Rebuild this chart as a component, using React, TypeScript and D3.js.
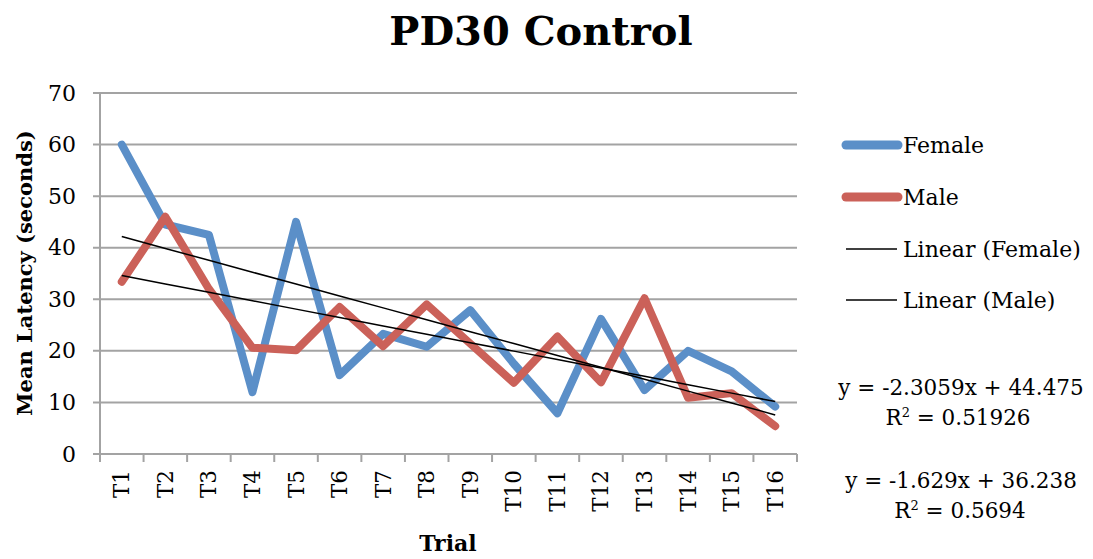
import React from "react";
import * as d3 from "d3";

const trials = ["T1","T2","T3","T4","T5","T6","T7","T8","T9","T10","T11","T12","T13","T14","T15","T16"];
const female = [60, 44.5, 42.5, 12, 45, 15.3, 23.3, 20.8, 27.9, 17.5, 7.9, 26.2, 12.4, 20, 16, 9.2];
const male = [33.4, 46, 32, 20.6, 20.1, 28.5, 20.9, 29, 21.4, 13.8, 22.8, 13.9, 30.2, 10.9, 11.8, 5.4];
const femaleTrend = { slope: -2.3059, intercept: 44.475, r2: "0.51926" };
const maleTrend = { slope: -1.629, intercept: 36.238, r2: "0.5694" };
const yTicks = [0, 10, 20, 30, 40, 50, 60, 70];
const legendItems = ["Female", "Male", "Linear (Female)", "Linear (Male)"];

const W = 1093, H = 559;
const L = 100, R = 797, T = 93, B = 454;
const FONT = "'DejaVu Serif', serif";
const BLUE = "#5b8fc8";
const RED = "#cb6159";
const GRID = "#a3a3a3";

export default function App() {
  const x = d3.scaleBand<string>().domain(trials).range([L, R]).padding(0);
  const cx = (t: string) => (x(t) as number) + x.bandwidth() / 2;
  const y = d3.scaleLinear().domain([0, 70]).range([B, T]);
  const line = d3.line<number>().x((_, i) => cx(trials[i])).y((d) => y(d));
  const trend = (tr: { slope: number; intercept: number }) =>
    d3.line<number>().x((_, i) => cx(trials[i])).y((n) => y(tr.intercept + tr.slope * n))(
      trials.map((_, i) => i + 1)
    ) as string;
  const xTickPos = [...trials.map((t) => x(t) as number), R];
  const legendY = [145, 197, 249, 300];

  return (
    <svg width={W} height={H} style={{ position: "absolute", left: 0, top: 0, background: "#fff" }} fontFamily={FONT}>
      <text x={541} y={45} textAnchor="middle" fontSize={40} fontWeight="bold" fill="#000">PD30 Control</text>
      {/* gridlines */}
      {yTicks.map((v) => (
        <line key={v} x1={L - 7} x2={R} y1={y(v)} y2={y(v)} stroke={GRID} strokeWidth={2} />
      ))}
      {/* y axis */}
      <line x1={L} x2={L} y1={T} y2={B} stroke={GRID} strokeWidth={2} />
      {/* x ticks */}
      {xTickPos.map((p, i) => (
        <line key={i} x1={p} x2={p} y1={B} y2={B + 8} stroke={GRID} strokeWidth={2} />
      ))}
      {yTicks.map((v) => (
        <text key={v} x={76} y={y(v)} textAnchor="end" dominantBaseline="central" fontSize={22} fill="#000">{v}</text>
      ))}
      {trials.map((t) => (
        <text key={t} transform={`translate(${cx(t)},${470}) rotate(-90)`} textAnchor="end" dominantBaseline="central" fontSize={21.5} fill="#000">{t}</text>
      ))}
      <text transform={`translate(${24},${273}) rotate(-90)`} textAnchor="middle" dominantBaseline="central" fontSize={21} fontWeight="bold" fill="#000">Mean Latency (seconds)</text>
      <text x={448} y={551} textAnchor="middle" fontSize={22} fontWeight="bold" fill="#000">Trial</text>
      {/* series */}
      <path d={line(female) as string} fill="none" stroke={BLUE} strokeWidth={8} strokeLinejoin="round" strokeLinecap="round" />
      <path d={line(male) as string} fill="none" stroke={RED} strokeWidth={8} strokeLinejoin="round" strokeLinecap="round" />
      <path d={trend(femaleTrend)} fill="none" stroke="#000" strokeWidth={1.5} />
      <path d={trend(maleTrend)} fill="none" stroke="#000" strokeWidth={1.5} />
      {/* legend */}
      {legendItems.map((name, i) => (
        <g key={name}>
          {i < 2 ? (
            <line x1={846} x2={898} y1={legendY[i]} y2={legendY[i]} stroke={i === 0 ? BLUE : RED} strokeWidth={9} strokeLinecap="round" />
          ) : (
            <line x1={846} x2={897} y1={legendY[i]} y2={legendY[i]} stroke="#000" strokeWidth={1.5} />
          )}
          <text x={903} y={legendY[i]} dominantBaseline="central" fontSize={22} fill="#000">{name}</text>
        </g>
      ))}
      {/* equations */}
      <text x={961} y={395} textAnchor="middle" fontSize={21.5} fill="#000">{`y = ${femaleTrend.slope}x + ${femaleTrend.intercept}`}</text>
      <text x={958} y={425} textAnchor="middle" fontSize={21.5} fill="#000">R<tspan dy={-8} fontSize={13}>2</tspan><tspan dy={8}>{` = ${femaleTrend.r2}`}</tspan></text>
      <text x={961} y={488} textAnchor="middle" fontSize={21.5} fill="#000">{`y = ${maleTrend.slope}x + ${maleTrend.intercept}`}</text>
      <text x={960} y={518} textAnchor="middle" fontSize={21.5} fill="#000">R<tspan dy={-8} fontSize={13}>2</tspan><tspan dy={8}>{` = ${maleTrend.r2}`}</tspan></text>
    </svg>
  );
}
